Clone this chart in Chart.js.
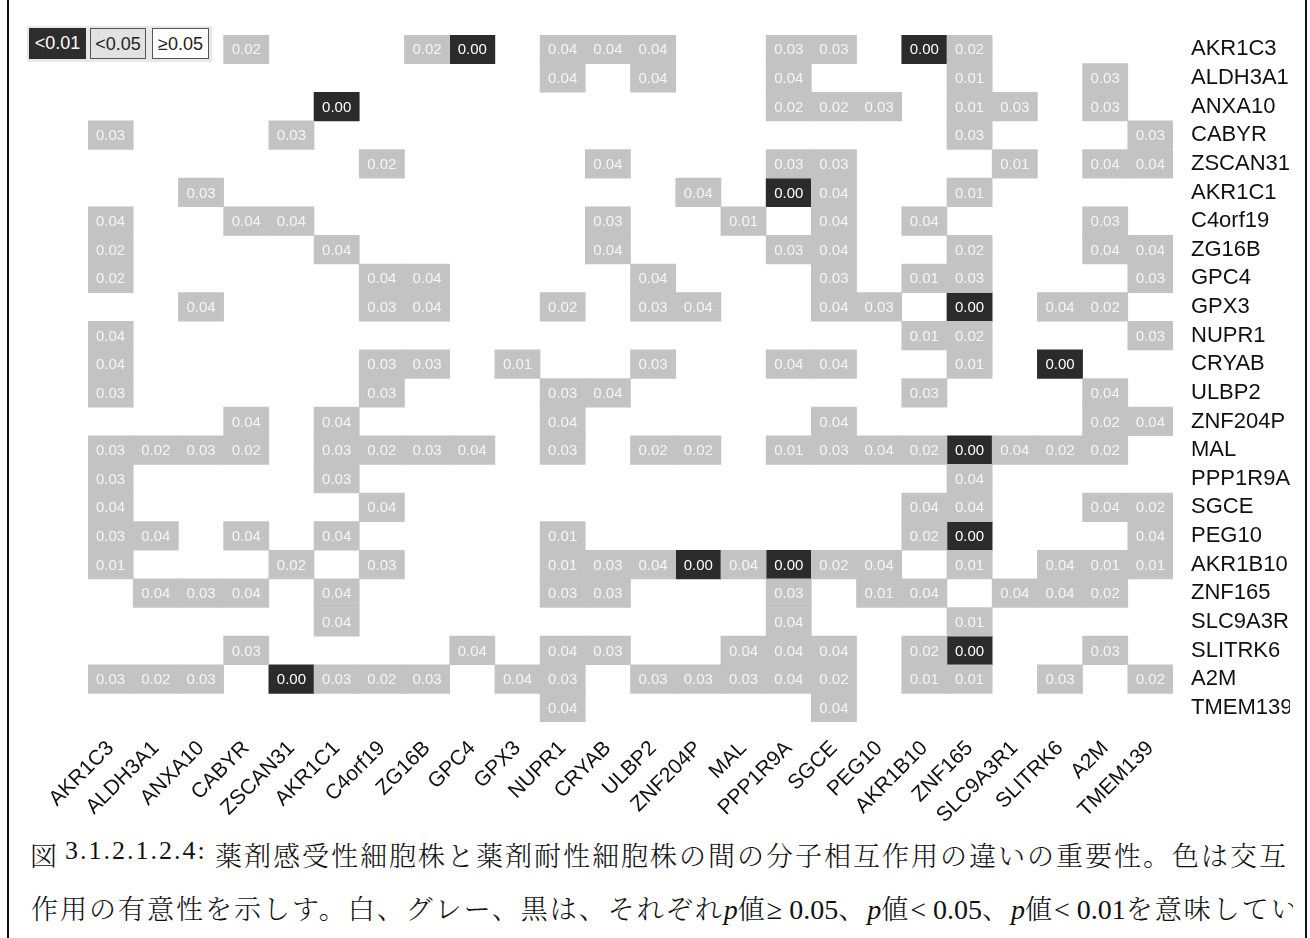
<!DOCTYPE html>
<html lang="ja">
<head>
<meta charset="utf-8">
<title>分子相互作用の違いの有意性</title>
<script src="https://cdn.jsdelivr.net/npm/chart.js@4.4.1/dist/chart.umd.min.js"></script>
<style>
  html, body { margin: 0; padding: 0; background: #fff; }
  body { width: 1310px; height: 938px; position: relative; overflow: hidden;
         font-family: "Liberation Sans", Arial, sans-serif; }
  #heat { position: absolute; left: 0; top: 0; }
  .frame { position: absolute; top: 0; width: 2px; height: 938px; background: #111; }
  #key { position: absolute; left: 27px; top: 26px; width: 185px; height: 36px; background: #e8e8e8; }
  #key span { position: absolute; top: 2px; height: 31px; line-height: 31px; text-align: center;
              font-size: 18px; box-sizing: border-box; }
  #key .k0 { left: 2px; width: 57px; background: #2d2d2d; color: #fff; }
  #key .k1 { left: 63px; width: 56px; background: #e2e2e2; color: #222; border: 1px solid #555; }
  #key .k2 { left: 125px; width: 57px; background: #fff; color: #222; border: 1px solid #555; }
  .cap { position: absolute; white-space: nowrap; color: #111;
         font-family: "Noto Serif CJK JP", "Noto Sans CJK JP", sans-serif; font-size: 27px; font-weight: 300; letter-spacing: 2px; }
  .num { font-family: "Liberation Serif", "DejaVu Serif", serif; font-size: 26px; letter-spacing: 2px; font-weight: 400; }
  .lat { font-family: "Liberation Serif", "DejaVu Serif", serif; font-size: 28px; letter-spacing: 0; font-weight: 400; }
</style>
</head>
<body>
<canvas id="heat" width="1290" height="830"></canvas>
<div class="frame" style="left:7px"></div>
<div class="frame" style="left:1305px"></div>
<div id="key"></div>
<div class="cap" style="left:30px; top:835px;">図</div>
<div class="cap num" style="left:65px; top:836px;">3.1.2.1.2.4:</div>
<div class="cap" style="left:215px; top:835px; width:1078px; overflow:hidden;">薬剤感受性細胞株と薬剤耐性細胞株の間の分子相互作用の違いの重要性。色は交互</div>
<div class="cap" style="left:31px; top:888px; width:1262px; overflow:hidden;">作用の有意性を示しす。白、グレー、黒は、それぞれ<span class="lat"><i>p</i></span>値<span class="lat">≥ 0.05</span>、<span class="lat"><i>p</i></span>値<span class="lat">&lt; 0.05</span>、<span class="lat"><i>p</i></span>値<span class="lat">&lt; 0.01</span>を意味してい</div>

<script>
// Genes on both axes (columns left to right, rows top to bottom)
const genes = ['AKR1C3', 'ALDH3A1', 'ANXA10', 'CABYR', 'ZSCAN31', 'AKR1C1', 'C4orf19', 'ZG16B',
  'GPC4', 'GPX3', 'NUPR1', 'CRYAB', 'ULBP2', 'ZNF204P', 'MAL', 'PPP1R9A', 'SGCE', 'PEG10',
  'AKR1B10', 'ZNF165', 'SLC9A3R1', 'SLITRK6', 'A2M', 'TMEM139'];

// p-values of the interaction differences; _ marks p >= 0.05 (left blank)
const _ = null;
const pValues = [
  [_, _, _, .02, _, _, _, .02, 0, _, .04, .04, .04, _, _, .03, .03, _, 0, .02, _, _, _, _],
  [_, _, _, _, _, _, _, _, _, _, .04, _, .04, _, _, .04, _, _, _, .01, _, _, .03, _],
  [_, _, _, _, _, 0, _, _, _, _, _, _, _, _, _, .02, .02, .03, _, .01, .03, _, .03, _],
  [.03, _, _, _, .03, _, _, _, _, _, _, _, _, _, _, _, _, _, _, .03, _, _, _, .03],
  [_, _, _, _, _, _, .02, _, _, _, _, .04, _, _, _, .03, .03, _, _, _, .01, _, .04, .04],
  [_, _, .03, _, _, _, _, _, _, _, _, _, _, .04, _, 0, .04, _, _, .01, _, _, _, _],
  [.04, _, _, .04, .04, _, _, _, _, _, _, .03, _, _, .01, _, .04, _, .04, _, _, _, .03, _],
  [.02, _, _, _, _, .04, _, _, _, _, _, .04, _, _, _, .03, .04, _, _, .02, _, _, .04, .04],
  [.02, _, _, _, _, _, .04, .04, _, _, _, _, .04, _, _, _, .03, _, .01, .03, _, _, _, .03],
  [_, _, .04, _, _, _, .03, .04, _, _, .02, _, .03, .04, _, _, .04, .03, _, 0, _, .04, .02, _],
  [.04, _, _, _, _, _, _, _, _, _, _, _, _, _, _, _, _, _, .01, .02, _, _, _, .03],
  [.04, _, _, _, _, _, .03, .03, _, .01, _, _, .03, _, _, .04, .04, _, _, .01, _, 0, _, _],
  [.03, _, _, _, _, _, .03, _, _, _, .03, .04, _, _, _, _, _, _, .03, _, _, _, .04, _],
  [_, _, _, .04, _, .04, _, _, _, _, .04, _, _, _, _, _, .04, _, _, _, _, _, .02, .04],
  [.03, .02, .03, .02, _, .03, .02, .03, .04, _, .03, _, .02, .02, _, .01, .03, .04, .02, 0, .04, .02, .02, _],
  [.03, _, _, _, _, .03, _, _, _, _, _, _, _, _, _, _, _, _, _, .04, _, _, _, _],
  [.04, _, _, _, _, _, .04, _, _, _, _, _, _, _, _, _, _, _, .04, .04, _, _, .04, .02],
  [.03, .04, _, .04, _, .04, _, _, _, _, .01, _, _, _, _, _, _, _, .02, 0, _, _, _, .04],
  [.01, _, _, _, .02, _, .03, _, _, _, .01, .03, .04, 0, .04, 0, .02, .04, _, .01, _, .04, .01, .01],
  [_, .04, .03, .04, _, .04, _, _, _, _, .03, .03, _, _, _, .03, _, .01, .04, _, .04, .04, .02, _],
  [_, _, _, _, _, .04, _, _, _, _, _, _, _, _, _, .04, _, _, _, .01, _, _, _, _],
  [_, _, _, .03, _, _, _, _, .04, _, .04, .03, _, _, .04, .04, .04, _, .02, 0, _, _, .03, _],
  [.03, .02, .03, _, 0, .03, .02, .03, _, .04, .03, _, .03, .03, .03, .04, .02, _, .01, .01, _, .03, _, .02],
  [_, _, _, _, _, _, _, _, _, _, .04, _, _, _, _, _, .04, _, _, _, _, _, _, _]
];

// Significance classes shown in the key
const keyLabels = ['<0.01', '<0.05', '≥0.05'];
const STRONG = 0.01;

const key = document.getElementById('key');
keyLabels.forEach((t, i) => {
  const s = document.createElement('span');
  s.className = 'k' + i;
  s.textContent = t;
  key.appendChild(s);
});

// One floating bar per significant cell: column on x, row band [r, r+1] on y
function cells(test) {
  const out = [];
  pValues.forEach((row, r) => row.forEach((p, c) => {
    if (p !== null && test(p)) out.push({ x: genes[c], y: [r, r + 1], p });
  }));
  return out;
}

// Writes each cell's p-value in the middle of its bar
const cellText = {
  id: 'cellText',
  afterDatasetsDraw(chart) {
    const ctx = chart.ctx;
    ctx.save();
    ctx.font = '15px "Liberation Sans", Arial, sans-serif';
    ctx.textAlign = 'center';
    ctx.textBaseline = 'middle';
    chart.data.datasets.forEach((ds, i) => {
      ctx.fillStyle = ds.textColor;
      chart.getDatasetMeta(i).data.forEach((bar, j) => {
        ctx.fillText(ds.data[j].p.toFixed(2), bar.x, (bar.y + bar.base) / 2 + 1);
      });
    });
    ctx.restore();
  }
};

const FONT = '"Liberation Sans", Arial, sans-serif';

new Chart(document.getElementById('heat'), {
  type: 'bar',
  data: {
    labels: genes,
    datasets: [
      { label: 'p < 0.05', data: cells(p => p >= STRONG), backgroundColor: '#c3c3c3', textColor: '#f6f6f6' },
      { label: 'p < 0.01', data: cells(p => p < STRONG), backgroundColor: '#2b2b2b', textColor: '#ffffff' }
    ]
  },
  options: {
    responsive: false,
    animation: false,
    devicePixelRatio: 1,
    layout: { padding: { left: 88, top: 35, right: 0, bottom: 0 } },
    datasets: {
      bar: { barPercentage: 1, categoryPercentage: 1, grouped: false, borderWidth: 0, borderSkipped: false }
    },
    plugins: { legend: { display: false }, tooltip: { enabled: false } },
    scales: {
      x: {
        type: 'category',
        position: 'bottom',
        grid: { display: false, drawTicks: false },
        border: { display: false },
        ticks: { autoSkip: false, minRotation: 45, maxRotation: 45, padding: 14, color: '#111',
                 font: { family: FONT, size: 21 } },
        afterFit(s) { s.height = 108; }
      },
      y: { type: 'linear', min: 0, max: 24, reverse: true, display: false },
      rows: {
        type: 'category',
        axis: 'y',
        labels: genes,
        position: 'right',
        offset: true,
        grid: { display: false, drawTicks: false },
        border: { display: false },
        ticks: { autoSkip: false, padding: 18, color: '#111', font: { family: FONT, size: 22 } },
        afterFit(s) { s.width = 117; }
      }
    }
  },
  plugins: [cellText]
});
</script>
</body>
</html>
